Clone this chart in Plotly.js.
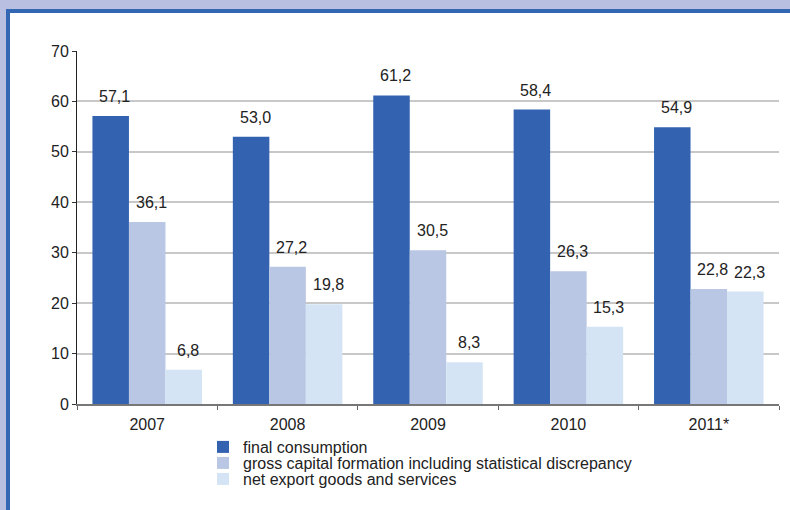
<!DOCTYPE html>
<html><head><meta charset="utf-8">
<script src="https://cdn.plot.ly/plotly-3.0.1.min.js"></script>
<style>
html,body{margin:0;padding:0;background:#fff;}
#wrap{position:relative;width:790px;height:510px;overflow:hidden;}
#chart{position:absolute;left:0;top:0;width:790px;height:510px;}
.ov{position:absolute;pointer-events:none;}
</style></head>
<body><div id="wrap"><div id="chart"></div>
<div class="ov" style="left:0;top:0;width:790px;height:9px;background:#b9bfe1"></div>
<div class="ov" style="left:0;top:0;width:6px;height:510px;background:#b9bfe1"></div>
<div class="ov" style="left:6px;top:9px;width:784px;height:4px;background:#3366b3"></div>
<div class="ov" style="left:6px;top:9px;width:4px;height:501px;background:#3366b3"></div>
</div>
<script>
const categories = ['2007','2008','2009','2010','2011*'];
const finalConsumption = [57.1, 53.0, 61.2, 58.4, 54.9];
const grossCapital = [36.1, 27.2, 30.5, 26.3, 22.8];
const netExport = [6.8, 19.8, 8.3, 15.3, 22.3];
const seriesNames = ['final consumption','gross capital formation including statistical discrepancy','net export goods and services'];
const seriesColors = ['#3363b0','#b9c7e4','#d4e4f5'];
const seriesValues = [finalConsumption, grossCapital, netExport];
const legendIds = ['legend','legend2','legend3'];

const traces = seriesValues.map((vals,i)=>({
  type:'bar', x:categories, y:vals, name:seriesNames[i],
  legend:legendIds[i],
  marker:{color:seriesColors[i], line:{width:0}},
  hoverinfo:'skip'
}));

const mL=77, mR=11, mT=51, mB=106, W=790, H=510;
const plotW = W-mL-mR, plotH = H-mT-mB;
const bargap = 0.22;
const barW = plotW/categories.length*(1-bargap)/3;
const FONT = 'Liberation Sans, Arial, sans-serif';
const annotations = [];
seriesValues.forEach((vals,i)=>{
  vals.forEach((v,j)=>{
    annotations.push({
      x:j, y:v, xref:'x', yref:'y',
      text:v.toFixed(1).replace('.',','), showarrow:false,
      xanchor:'center', yanchor:'bottom',
      xshift:(i-1)*barW+4, yshift:9,
      font:{family:FONT, size:16, color:'#222'}
    });
  });
});

const legendRowsPx = [447, 463, 479];
const legendLeftPx = 203;
const legendFont = {family:FONT, size:16, color:'#222'};
function legendAt(py){
  return {orientation:'v', x:(legendLeftPx-mL)/plotW, xanchor:'left',
    y:(H-mB-py)/plotH, yanchor:'middle', font:legendFont, itemclick:false,
    bgcolor:'rgba(0,0,0,0)', borderwidth:0};
}

const layout = {
  width:W, height:H,
  margin:{l:mL, r:mR, t:mT, b:mB},
  paper_bgcolor:'#fff', plot_bgcolor:'#fff',
  barmode:'group', bargap:bargap, bargroupgap:0,
  font:{family:FONT, size:16, color:'#222'},
  showlegend:true,
  legend:legendAt(legendRowsPx[0]),
  legend2:legendAt(legendRowsPx[1]),
  legend3:legendAt(legendRowsPx[2]),
  xaxis:{type:'category', range:[-0.5, categories.length-0.5], autorange:false,
    tickson:'boundaries', ticks:'outside', ticklen:4, tickcolor:'#666', ticklabelstandoff:5,
    showline:true, linecolor:'#777', linewidth:2, showgrid:false, zeroline:false,
    tickangle:0, tickfont:{size:16, color:'#222'}, fixedrange:true},
  yaxis:{range:[0,70], autorange:false, dtick:10, ticks:'outside', ticklen:4, tickcolor:'#333',
    showline:true, linecolor:'#222', linewidth:1, showgrid:true, gridcolor:'#c8c8c8', gridwidth:2,
    zeroline:false, tickfont:{size:16, color:'#222'}, fixedrange:true},
  annotations:annotations
};
Plotly.newPlot('chart', traces, layout, {displayModeBar:false, staticPlot:true});
</script></body></html>
